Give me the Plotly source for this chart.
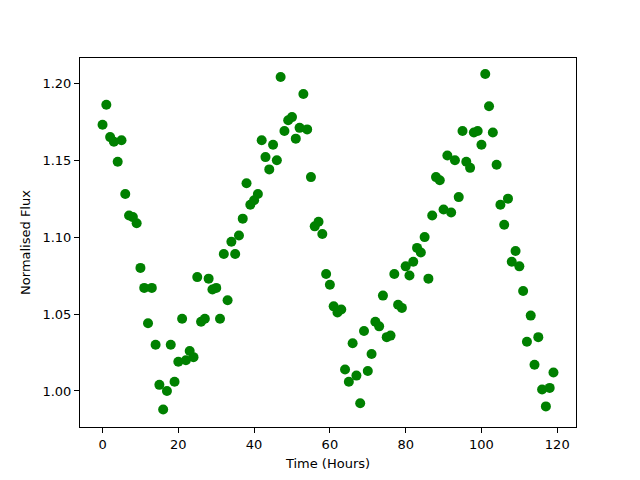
import plotly.graph_objects as go

hours = list(range(120))
flux = [
    1.173, 1.186, 1.165, 1.162, 1.149, 1.163, 1.128, 1.114, 1.113, 1.109,
    1.080, 1.067, 1.044, 1.067, 1.030, 1.004, 0.988, 1.000, 1.030, 1.006,
    1.019, 1.047, 1.020, 1.026, 1.022, 1.074, 1.045, 1.047, 1.073, 1.066,
    1.067, 1.047, 1.089, 1.059, 1.097, 1.089, 1.101, 1.112, 1.135, 1.121,
    1.124, 1.128, 1.163, 1.152, 1.144, 1.160, 1.150, 1.204, 1.169, 1.176,
    1.178, 1.164, 1.171, 1.193, 1.170, 1.139, 1.107, 1.110, 1.102, 1.076,
    1.069, 1.055, 1.051, 1.053, 1.014, 1.006, 1.031, 1.010, 0.992, 1.039,
    1.013, 1.024, 1.045, 1.042, 1.062, 1.035, 1.036, 1.076, 1.056, 1.054,
    1.081, 1.075, 1.084, 1.093, 1.090, 1.100, 1.073, 1.114, 1.139, 1.137,
    1.118, 1.153, 1.116, 1.150, 1.126, 1.169, 1.149, 1.145, 1.168, 1.169,
    1.160, 1.206, 1.185, 1.168, 1.147, 1.121, 1.108, 1.125, 1.084, 1.091,
    1.081, 1.065, 1.032, 1.049, 1.017, 1.035, 1.001, 0.990, 1.002, 1.012,
]
x_ticks = [0, 20, 40, 60, 80, 100, 120]
y_ticks = [1.00, 1.05, 1.10, 1.15, 1.20]

fig = go.Figure(go.Scatter(
    x=hours, y=flux, mode="markers",
    marker=dict(color="#008000", size=10, line=dict(width=0)),
))

axis_common = dict(
    showline=True, linecolor="black", linewidth=1, mirror=True,
    ticks="outside", ticklen=5, tickwidth=1, tickcolor="black",
    showgrid=False, zeroline=False, automargin=False,
    tickfont=dict(family="DejaVu Sans", size=13, color="black"),
)

fig.update_layout(
    width=640, height=480,
    margin=dict(l=72, r=72, t=50, b=61),
    paper_bgcolor="white", plot_bgcolor="white",
    showlegend=False,
    font=dict(family="DejaVu Sans", size=13, color="black"),
    xaxis=dict(range=[-5.95, 124.95], tickvals=x_ticks,
               title=dict(text="Time (Hours)", standoff=8,
                          font=dict(family="DejaVu Sans", size=13)),
               **axis_common),
    yaxis=dict(range=[0.9766, 1.2164], tickvals=y_ticks, tickformat=".2f",
               title=dict(text="Normalised Flux", standoff=8,
                          font=dict(family="DejaVu Sans", size=13)),
               **axis_common),
)

fig.write_html("out.html")
